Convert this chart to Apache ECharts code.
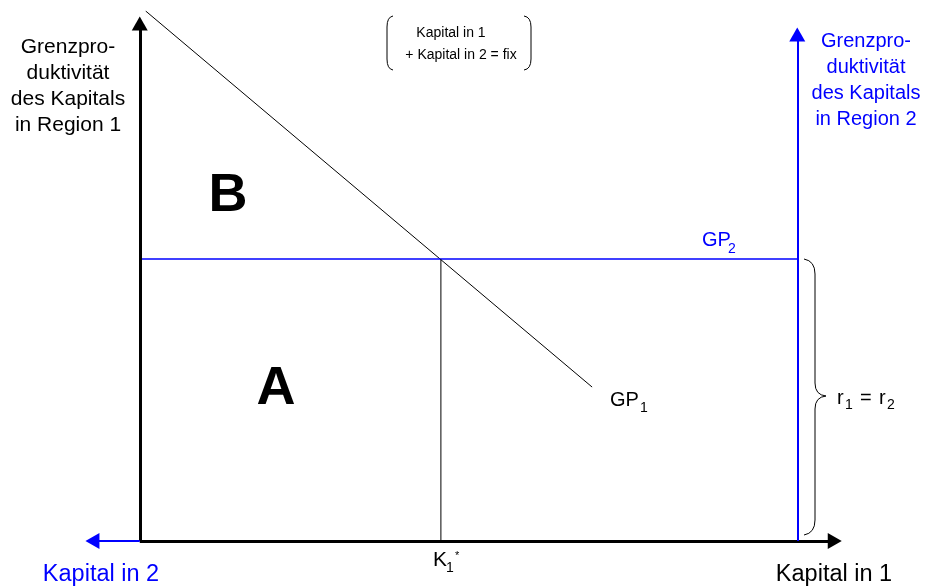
<!DOCTYPE html>
<html>
<head>
<meta charset="utf-8">
<script src="https://cdn.jsdelivr.net/npm/echarts@6/dist/echarts.min.js"></script>
<style>
  html, body { margin: 0; padding: 0; background: #fff; }
  #chart { width: 927px; height: 587px; }
</style>
</head>
<body>
<div id="chart"></div>
<script>
// diagram values (abstract units: total capital = 100, r = 100)
var gp1Line = [[0.9, 188], [68.8, 54.6]];
var rLevel = 100;
var kTotal = 100;
var k1Star = 45.8;
var leftAxisEnd = 183.6;    // top of region-1 axis
var rightAxisEnd = 179.7;   // top of region-2 axis
var capital1End = 105.7;    // right end of capital axis
var capital2End = -7.2;     // left end (capital in 2)

var BLUE = '#0000ff';
var FONT = 'Liberation Sans, Arial, sans-serif';

var chart = echarts.init(document.getElementById('chart'));

function txt(x, y, s, size, color, align, weight){
	return {
		type: 'text',
		x: x, y: y,
		style: {
			text: s,
			fill: color || '#000',
			font: (weight || 'normal') + ' ' + size + 'px ' + FONT,
			align: align || 'left',
			verticalAlign: 'middle',
			lineHeight: 26
		}
	};
}

// curved piece (quadratic) and straight piece for the brackets
function curve(x1, y1, cx, cy, x2, y2){
	return {
		type: 'bezierCurve',
		shape: { x1: x1, y1: y1, cpx1: cx, cpy1: cy, x2: x2, y2: y2 },
		style: { fill: 'none', stroke: '#000', lineWidth: 1 }
	};
}
function seg(x1, y1, x2, y2){
	return {
		type: 'line',
		shape: { x1: x1, y1: y1, x2: x2, y2: y2 },
		style: { stroke: '#000', lineWidth: 1 }
	};
}

var option = {
	animation: false,
	grid: { left: 74, right: 87, top: 11, bottom: 46 },
	xAxis: {
		type: 'value', min: -10, max: 106.5,
		show: false
	},
	yAxis: {
		type: 'value', min: 0, max: 188,
		show: false
	},
	series: [
		{
			// axes with arrows
			type: 'line',
			data: [],
			markLine: {
				silent: true,
				symbol: ['none', 'triangle'],
				symbolSize: [16, 14],
				label: { show: false },
				data: [
					[{ coord: [0, 0], lineStyle: { color: '#000', width: 3, type: 'solid' } }, { coord: [0, leftAxisEnd] }],
					[{ coord: [0, 0], lineStyle: { color: '#000', width: 3, type: 'solid' } }, { coord: [capital1End, 0] }],
					[{ coord: [0, 0], lineStyle: { color: BLUE, width: 2, type: 'solid' } }, { coord: [capital2End, 0] }],
					[{ coord: [kTotal, 0], lineStyle: { color: BLUE, width: 2, type: 'solid' } }, { coord: [kTotal, rightAxisEnd] }]
				]
			}
		},
		{
			name: 'GP1',
			type: 'line',
			data: gp1Line,
			symbol: 'none',
			lineStyle: { color: '#000', width: 1 }
		},
		{
			name: 'GP2',
			type: 'line',
			data: [[0, rLevel], [kTotal, rLevel]],
			symbol: 'none',
			lineStyle: { color: BLUE, width: 1.5 }
		},
		{
			name: 'K1*',
			type: 'line',
			data: [[k1Star, 0], [k1Star, rLevel]],
			symbol: 'none',
			lineStyle: { color: '#000', width: 1 }
		}
	],
	graphic: [
		txt(68, 86, 'Grenzpro-\nduktivität\ndes Kapitals\nin Region 1', 21, '#000', 'center'),
		txt(866, 80, 'Grenzpro-\nduktivität\ndes Kapitals\nin Region 2', 20, BLUE, 'center'),
		txt(451, 33, 'Kapital in 1', 14, '#000', 'center'),
		txt(461, 55, '+ Kapital in 2 = fix', 14, '#000', 'center'),
		// parentheses around the note
		curve(393, 16, 387, 17, 387, 27), seg(387, 27, 387, 59), curve(387, 59, 387, 69, 393, 70),
		curve(524, 16, 531, 17, 531, 27), seg(531, 27, 531, 59), curve(531, 59, 531, 69, 524, 70),
		txt(228, 196, 'B', 54, '#000', 'center', 'bold'),
		txt(276, 389, 'A', 54, '#000', 'center', 'bold'),
		txt(702, 240, 'GP', 20, BLUE),
		txt(728, 249, '2', 14, BLUE),
		txt(610, 400, 'GP', 20, '#000'),
		txt(640, 408, '1', 14, '#000'),
		// brace r1 = r2
		curve(804, 259, 815, 261, 815, 274), seg(815, 274, 815, 383), curve(815, 383, 815, 395, 826, 396),
		curve(826, 396, 815, 397, 815, 409), seg(815, 409, 815, 520), curve(815, 520, 815, 533, 804, 535),
		txt(837, 398, 'r', 20, '#000'),
		txt(845, 405, '1', 14, '#000'),
		txt(860, 398, '=', 20, '#000'),
		txt(879, 398, 'r', 20, '#000'),
		txt(887, 405, '2', 14, '#000'),
		txt(433, 560, 'K', 21, '#000'),
		txt(446, 568, '1', 14, '#000'),
		txt(455, 556, '*', 11, '#000'),
		txt(101, 575, 'Kapital in 2', 23.5, BLUE, 'center'),
		txt(834, 575, 'Kapital in 1', 23.5, '#000', 'center')
	]
};

chart.setOption(option);
</script>
</body>
</html>
